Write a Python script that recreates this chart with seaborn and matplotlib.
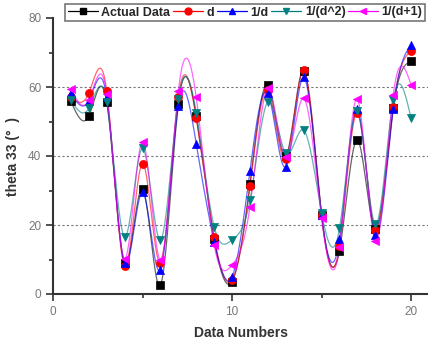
import numpy as np
import pandas as pd
import matplotlib
matplotlib.use("Agg")
import matplotlib.pyplot as plt
from matplotlib.lines import Line2D
from matplotlib.ticker import MultipleLocator
import seaborn as sns

data_numbers = list(range(1, 21))
actual = [55.9, 51.6, 55.7, 9.0, 30.5, 2.6, 55.0, 51.5, 16.0, 3.6,
          31.8, 60.6, 40.0, 64.6, 23.0, 12.6, 44.6, 18.8, 53.8, 67.5]
d_model = [57.0, 58.2, 58.9, 8.2, 37.8, 9.0, 57.0, 50.9, 16.6, 4.0,
           31.3, 59.0, 39.0, 64.9, 22.9, 14.0, 52.4, 18.6, 54.1, 70.5]
inv_d = [58.2, 56.0, 57.0, 8.9, 29.5, 7.0, 54.5, 43.5, 15.2, 5.0,
         35.7, 58.2, 36.9, 62.8, 23.0, 15.9, 53.5, 17.1, 53.5, 72.2]
inv_d2 = [56.2, 53.8, 55.7, 16.6, 42.2, 15.7, 56.4, 52.6, 19.5, 15.7,
          27.2, 55.7, 40.8, 47.5, 23.6, 19.0, 53.0, 20.2, 56.2, 50.9]
inv_d1 = [59.4, 56.2, 58.0, 10.2, 44.1, 9.9, 58.9, 57.0, 14.2, 8.4,
          25.3, 59.6, 39.6, 56.7, 21.9, 13.5, 56.5, 15.4, 57.7, 60.6]

series = {
    "Actual Data": actual,
    "d": d_model,
    "1/d": inv_d,
    "1/(d^2)": inv_d2,
    "1/(d+1)": inv_d1,
}
colors = {"Actual Data": "black", "d": "red", "1/d": "blue",
          "1/(d^2)": "#008080", "1/(d+1)": "magenta"}
markers = {"Actual Data": "s", "d": "o", "1/d": "^",
           "1/(d^2)": "v", "1/(d+1)": "<"}


def natural_spline(x, y, n=400):
    x = np.asarray(x, float)
    y = np.asarray(y, float)
    k = len(x)
    h = np.diff(x)
    A = np.zeros((k, k))
    b = np.zeros(k)
    A[0, 0] = A[-1, -1] = 1
    for i in range(1, k - 1):
        A[i, i - 1] = h[i - 1]
        A[i, i] = 2 * (h[i - 1] + h[i])
        A[i, i + 1] = h[i]
        b[i] = 3 * ((y[i + 1] - y[i]) / h[i] - (y[i] - y[i - 1]) / h[i - 1])
    c = np.linalg.solve(A, b)
    xs = np.linspace(x[0], x[-1], n)
    idx = np.clip(np.searchsorted(x, xs) - 1, 0, k - 2)
    dx = xs - x[idx]
    bb = (y[1:] - y[:-1]) / h - h * (2 * c[:-1] + c[1:]) / 3
    dd = (c[1:] - c[:-1]) / (3 * h)
    ys = y[idx] + bb[idx] * dx + c[idx] * dx ** 2 + dd[idx] * dx ** 3
    return xs, ys


sns.set_style("white")
plt.rcParams["font.family"] = ["Liberation Sans", "DejaVu Sans"]

fig = plt.figure(figsize=(4.28, 3.42), dpi=100)
ax = fig.add_axes([53 / 428, 48 / 342, 376 / 428, 276 / 342])

smooth_rows = []
point_rows = []
for name, vals in series.items():
    xs, ys = natural_spline(data_numbers, vals)
    smooth_rows.append(pd.DataFrame({"x": xs, "y": ys, "series": name}))
    point_rows.append(pd.DataFrame({"x": data_numbers, "y": vals, "series": name}))
smooth = pd.concat(smooth_rows, ignore_index=True)
points = pd.concat(point_rows, ignore_index=True)

sns.lineplot(data=smooth, x="x", y="y", hue="series", palette=colors,
             linewidth=0.9, alpha=0.6, legend=False, ax=ax, sort=False,
             estimator=None)
for name in series:
    sub = points[points["series"] == name]
    sns.scatterplot(data=sub, x="x", y="y", color=colors[name],
                    marker=markers[name], s=34, edgecolor=colors[name],
                    linewidth=0.5, legend=False, ax=ax, zorder=3)

ax.set_xlim(0, 21)
ax.set_ylim(0, 80)
ax.xaxis.set_major_locator(MultipleLocator(10))
ax.xaxis.set_minor_locator(MultipleLocator(5))
ax.yaxis.set_major_locator(MultipleLocator(20))
ax.yaxis.set_minor_locator(MultipleLocator(10))
for yv in (20, 40, 60):
    ax.axhline(yv, color="#777777", linestyle=(0, (2, 2)), linewidth=0.8,
               zorder=0)
for side in ("top", "right"):
    ax.spines[side].set_visible(False)
for side in ("left", "bottom"):
    ax.spines[side].set_color("#333333")
    ax.spines[side].set_linewidth(1.5)
ax.tick_params(which="both", direction="out", color="#333333", width=1.2,
               labelcolor="#777777", labelsize=8.5, left=True, bottom=True)
ax.tick_params(which="major", length=5)
ax.tick_params(which="minor", length=3)

ax.set_xlabel("Data Numbers", fontsize=10, fontweight="bold", color="#333333",
              labelpad=6)
ax.set_ylabel("theta 33 (°  )", fontsize=10, fontweight="bold",
              color="#333333", labelpad=6)

handles = [Line2D([], [], color=colors[n], marker=markers[n], markersize=5,
                  linewidth=0.9) for n in series]
leg = fig.legend(handles, list(series.keys()), loc="upper left",
                 bbox_to_anchor=(65 / 428, 1 - 4 / 342), ncol=5,
                 frameon=True, fancybox=False, handlelength=2.4,
                 handletextpad=0.3, columnspacing=0.2, borderpad=0.2,
                 borderaxespad=0, prop={"weight": "bold", "size": 9})
leg.get_frame().set_edgecolor("#555555")
leg.get_frame().set_linewidth(1.2)

fig.savefig("out.png", dpi=100)
